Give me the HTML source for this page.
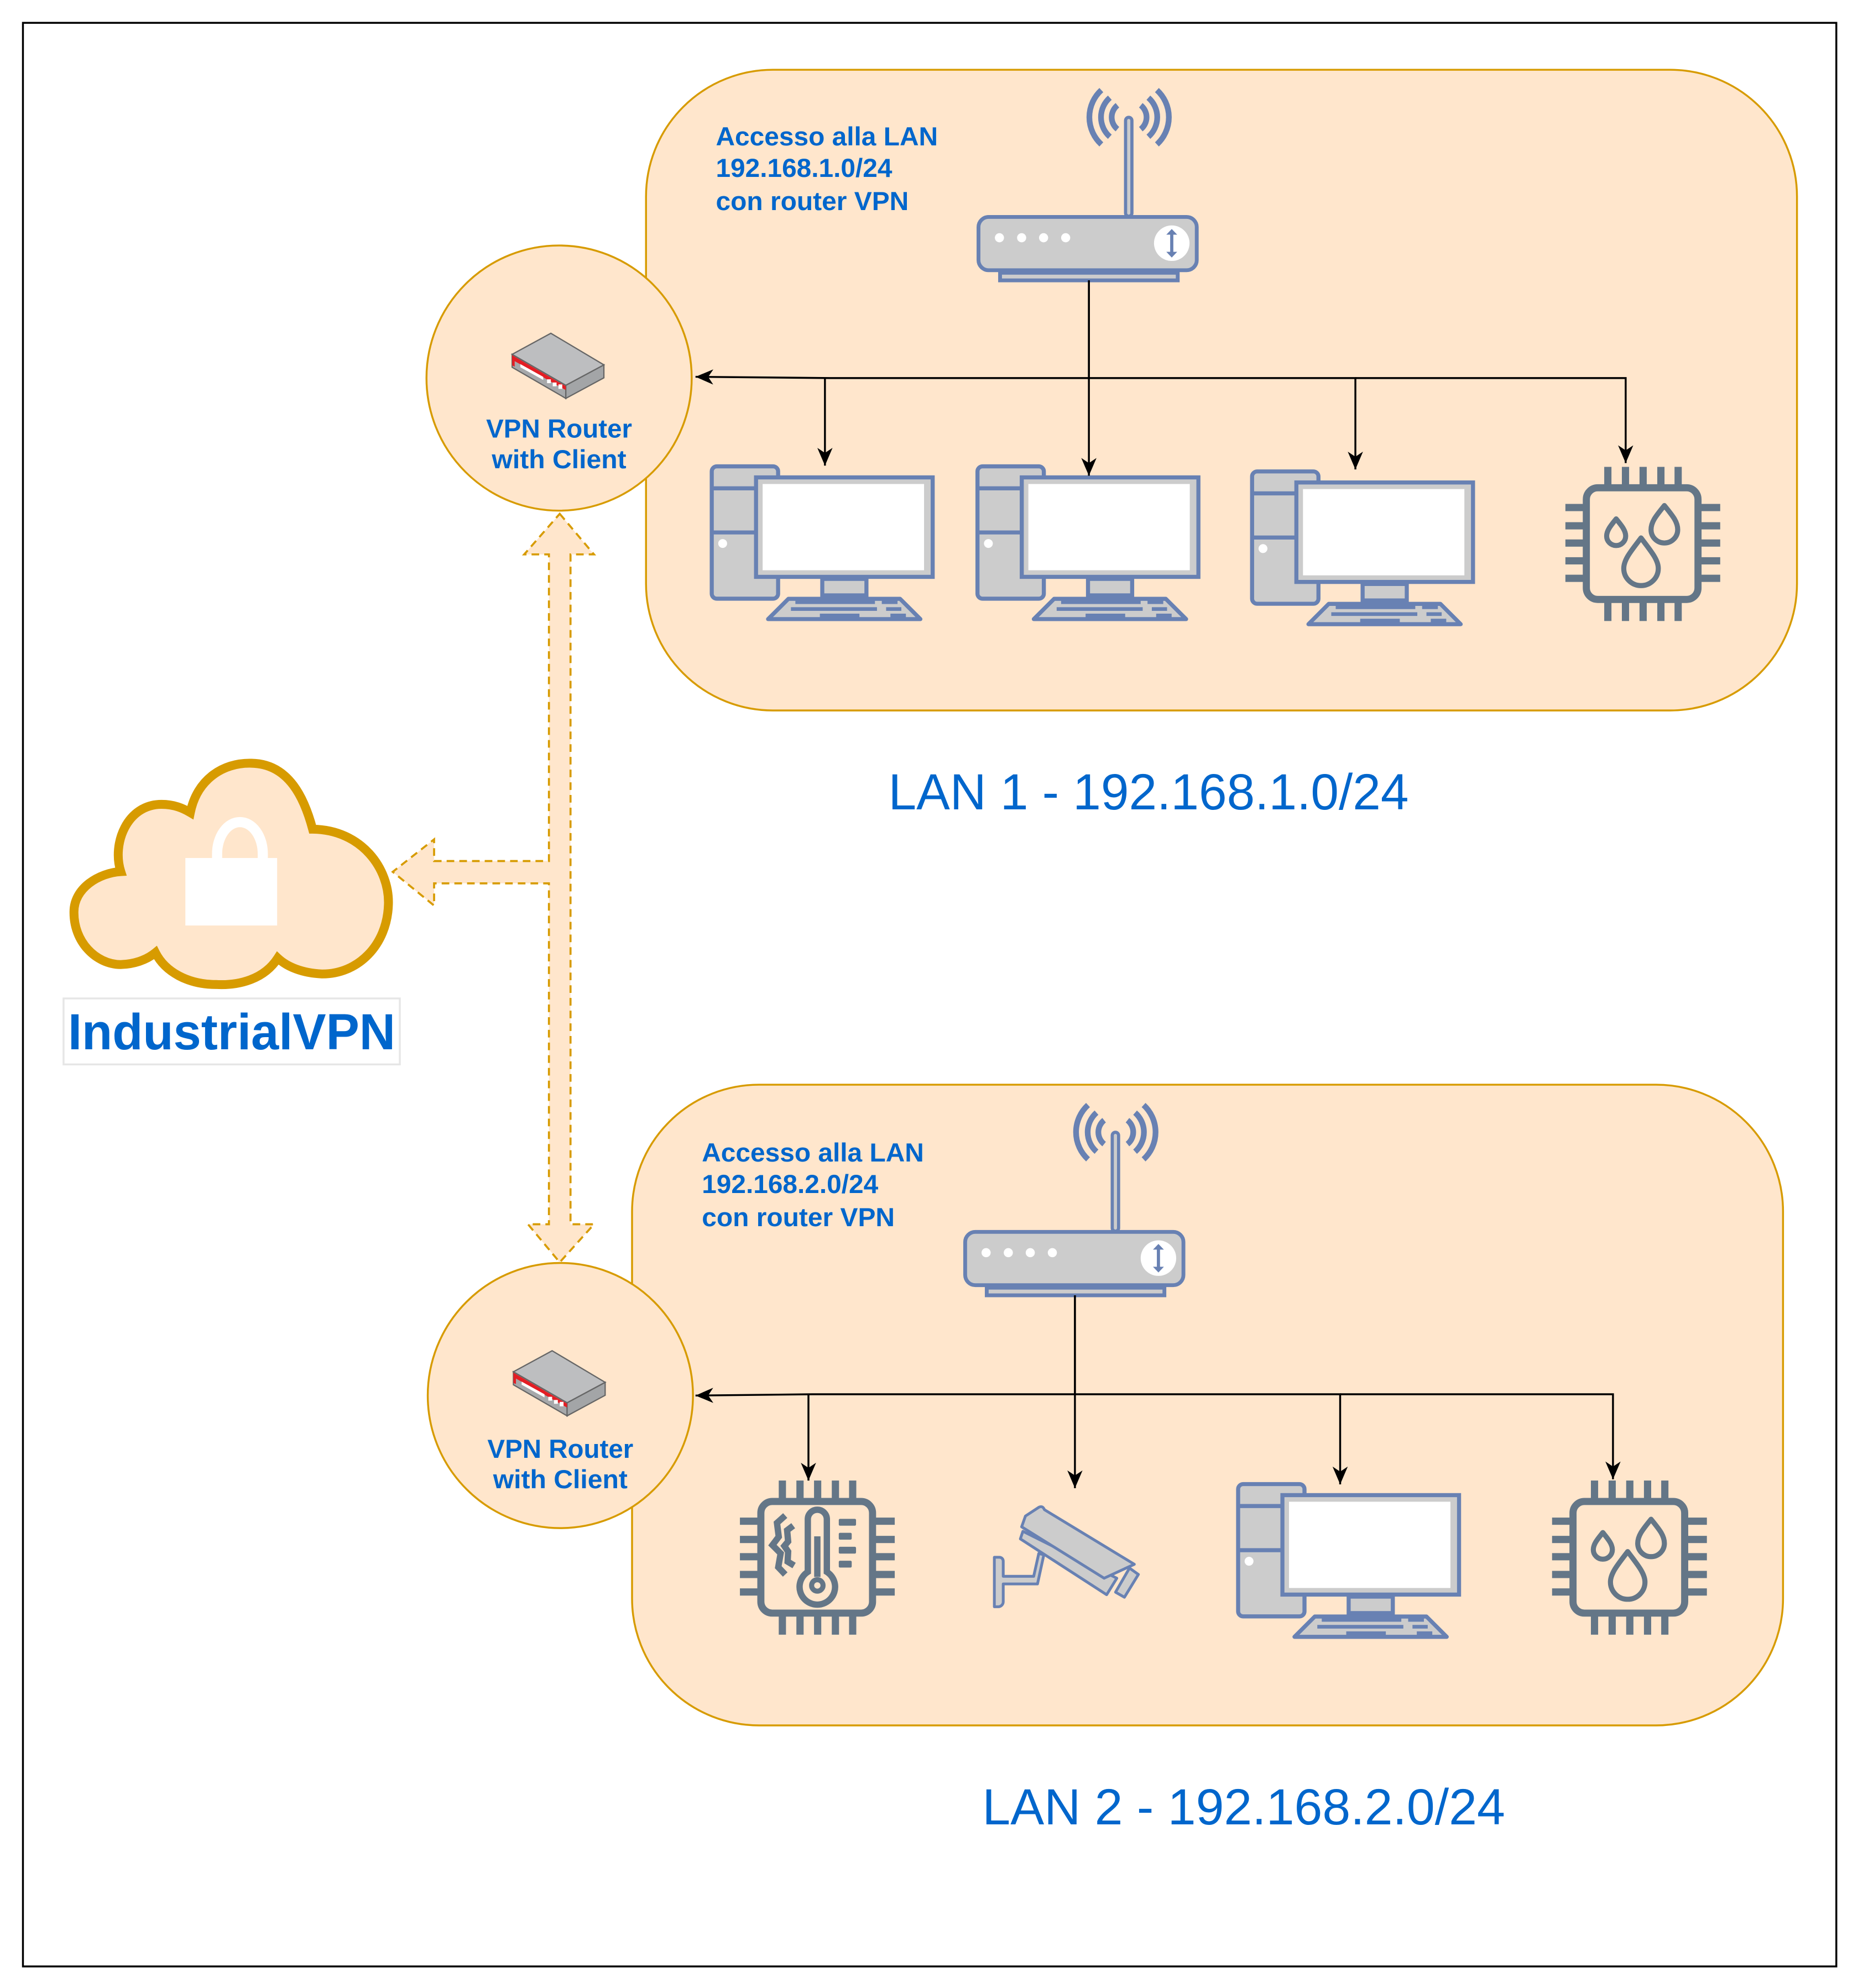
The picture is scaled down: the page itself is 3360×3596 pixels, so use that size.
<!DOCTYPE html>
<html><head><meta charset="utf-8"><style>
html,body{margin:0;padding:0;background:#fff;}
svg{display:block;}
text{font-family:"Liberation Sans",Arial,sans-serif;fill:#0066cc;}
</style></head><body>
<svg xmlns="http://www.w3.org/2000/svg" xmlns:xlink="http://www.w3.org/1999/xlink" width="3360" height="3596" viewBox="0 0 1464 1567">
<defs>
<marker id="ar" markerUnits="userSpaceOnUse" markerWidth="16" markerHeight="12" refX="14" refY="6" orient="auto">
<path d="M0,0 L14,6 L0,12 L4,6 Z" fill="#000"/>
</marker>
<g id="pc">
<rect x="1.6" y="1.6" width="52.3" height="104.3" rx="4" fill="#ccc" stroke="#6881b3" stroke-width="3.2"/>
<line x1="1.6" y1="18.9" x2="36" y2="18.9" stroke="#6881b3" stroke-width="3.2"/>
<line x1="1.6" y1="53.7" x2="36" y2="53.7" stroke="#6881b3" stroke-width="3.2"/>
<circle cx="10.2" cy="62.4" r="3.5" fill="#fff"/>
<rect x="36.5" y="10.3" width="139.2" height="78.4" fill="#ccc" stroke="#6881b3" stroke-width="3.2"/>
<rect x="41.7" y="15.5" width="127.2" height="68" fill="#fff"/>
<rect x="88.7" y="90.3" width="34.8" height="13" fill="#ccc" stroke="#6881b3" stroke-width="3.2"/>
<polygon points="62,106 150,106 166,122 46,122" fill="#ccc" stroke="#6881b3" stroke-width="3.2" stroke-linejoin="round"/>
<g fill="#6881b3">
<rect x="67.5" y="107.2" width="62.7" height="2.9"/><rect x="135.6" y="107.2" width="12.4" height="2.9"/>
<rect x="64" y="112.6" width="67.8" height="2.9"/><rect x="139" y="112.6" width="12" height="2.9"/>
<rect x="86.8" y="117.7" width="31.2" height="2.9"/><rect x="142.4" y="117.7" width="12.2" height="2.9"/>
</g>
</g>
<g id="chipbase" fill="#647687">
<rect x="16.5" y="16.5" width="88" height="88" rx="9" fill="none" stroke="#647687" stroke-width="5.6"/>
<rect x="30.6" y="0" width="5.7" height="14"/><rect x="44.5" y="0" width="5.7" height="14"/><rect x="58.4" y="0" width="5.7" height="14"/><rect x="72.4" y="0" width="5.7" height="14"/><rect x="86" y="0" width="5.7" height="14"/>
<rect x="30.6" y="107" width="5.7" height="14.5"/><rect x="44.5" y="107" width="5.7" height="14.5"/><rect x="58.4" y="107" width="5.7" height="14.5"/><rect x="72.4" y="107" width="5.7" height="14.5"/><rect x="86" y="107" width="5.7" height="14.5"/>
<rect x="0" y="29.2" width="14" height="5.7"/><rect x="0" y="43.6" width="14" height="5.7"/><rect x="0" y="57.2" width="14" height="5.7"/><rect x="0" y="71.2" width="14" height="5.7"/><rect x="0" y="85" width="14" height="5.7"/>
<rect x="107" y="29.2" width="15" height="5.7"/><rect x="107" y="43.6" width="15" height="5.7"/><rect x="107" y="57.2" width="15" height="5.7"/><rect x="107" y="71.2" width="15" height="5.7"/><rect x="107" y="85" width="15" height="5.7"/>
</g>
<g id="chipwater">
<use xlink:href="#chipbase"/>
<g fill="none" stroke="#647687" stroke-width="4" stroke-linejoin="round">
<path d="M59.6,56 C52,66 46,73 46,80 A13.6,13.6 0 0 0 73.2,80 C73.2,73 67,66 59.6,56 Z"/>
<path d="M78,30.5 C72,38 67.5,43 67.5,49.5 A10.5,10.5 0 0 0 88.5,49.5 C88.5,43 84,38 78,30.5 Z"/>
<path d="M40,41 C36,46 32.5,50 32.5,54.5 A7.5,7.5 0 0 0 47.5,54.5 C47.5,50 44,46 40,41 Z"/>
</g>
</g>
<g id="chiptherm">
<use xlink:href="#chipbase"/>
<g fill="none" stroke="#647687" stroke-width="5">
<path d="M53.5,72 V30.5 A7.5,7.5 0 0 1 68.5,30.5 V72 A14,14 0 1 1 53.5,72 Z"/>
<line x1="61" y1="44" x2="61" y2="76"/>
<circle cx="61" cy="82.7" r="4.5" stroke-width="4"/>
<path d="M35.7,27.6 L29.2,33.4 L30.6,44.3 L25.6,50.9 L32.1,57.4 L30.2,68.3 L35.7,74.1" stroke-width="5"/>
<path d="M42,35.6 L37.2,39.2 L38,48 L35,51.6 L38,56 L37.6,63.9 L42.7,67" stroke-width="5"/>
</g>
<g fill="#647687">
<rect x="77.9" y="30.2" width="13.6" height="5.4" rx="1"/><rect x="77.9" y="41.2" width="10.2" height="5.4" rx="1"/><rect x="77.9" y="52.2" width="13.6" height="5.4" rx="1"/><rect x="77.9" y="63.2" width="10.2" height="5.4" rx="1"/>
</g>
</g>
<g id="router">
<g fill="none" stroke="#6881b3" stroke-width="4.5">
<path d="M880.5,83 A12,12 0 0 0 880.5,101.8"/><path d="M898.9,83 A12,12 0 0 1 898.9,101.8"/>
<path d="M874.5,77 A20.5,20.5 0 0 0 874.5,107.8"/><path d="M904.9,77 A20.5,20.5 0 0 1 904.9,107.8"/>
<path d="M867.8,71 A29,29 0 0 0 867.8,113.8"/><path d="M911.6,71 A29,29 0 0 1 911.6,113.8"/>
</g>
<g transform="translate(769.5,169.5)">
<rect x="18.5" y="45.5" width="140" height="6" fill="#ccc" stroke="#6881b3" stroke-width="3"/>
<rect x="1.5" y="1.5" width="172" height="42" rx="8" fill="#ccc" stroke="#6881b3" stroke-width="3"/>
<circle cx="18" cy="17.9" r="3.6" fill="#fff"/><circle cx="35.5" cy="17.9" r="3.6" fill="#fff"/><circle cx="52.8" cy="17.9" r="3.6" fill="#fff"/><circle cx="70.2" cy="17.9" r="3.6" fill="#fff"/>
<circle cx="153.8" cy="22.2" r="14" fill="#fff"/>
<line x1="153.8" y1="14" x2="153.8" y2="30.5" stroke="#6881b3" stroke-width="2.5"/>
<path d="M149.5,15.5 L153.8,11 L158.1,15.5 Z M149.5,29 L153.8,33.5 L158.1,29 Z" fill="#6881b3"/>
<rect x="117.4" y="-77" width="5" height="78" rx="2.5" fill="#ccc" stroke="#6881b3" stroke-width="2.5"/>
</g>
</g>
<g id="vpnbox">
<polygon points="403.5,279.3 445.8,303.7 445.8,314 403.5,289.5" fill="#a6a8aa" stroke="#666" stroke-width="1"/>
<polygon points="445.8,303.7 475.8,287.6 475.8,297.8 445.8,314" fill="#a3a5a7" stroke="#666" stroke-width="1"/>
<polygon points="403.5,279.3 434,262.7 475.8,287.6 445.8,303.7" fill="#bdbec0" stroke="#666" stroke-width="1"/>
<polygon points="403.5,280 445.8,304.4 445.8,307.5 403.5,283.5" fill="#e31e24"/>
<polygon points="403.5,280 405.5,281.1 405.5,289 403.5,288" fill="#e31e24"/>
<polygon points="410,287 428,297 428,299.5 410,289.5" fill="#fff"/>
<rect x="431" y="299" width="3" height="3" fill="#fff"/><rect x="435.5" y="301.5" width="3" height="3" fill="#fff"/><rect x="440" y="303" width="3" height="3.5" fill="#fff"/>
</g>
</defs>

<rect x="0" y="0" width="1464" height="1567" fill="#fff"/>
<rect x="18" y="18" width="1429" height="1532" fill="none" stroke="#000" stroke-width="1.5"/>

<rect x="509" y="55" width="907" height="505" rx="100" fill="#ffe6cc" stroke="#d79b00" stroke-width="1.5"/>
<rect x="498" y="855" width="907" height="505" rx="100" fill="#ffe6cc" stroke="#d79b00" stroke-width="1.5"/>

<text x="564" y="114.6" font-size="20.5" font-weight="bold" textLength="175" lengthAdjust="spacingAndGlyphs">Accesso alla LAN</text>
<text x="564" y="139.4" font-size="20.5" font-weight="bold" textLength="139" lengthAdjust="spacingAndGlyphs">192.168.1.0/24</text>
<text x="564" y="165.6" font-size="20.5" font-weight="bold" textLength="152" lengthAdjust="spacingAndGlyphs">con router VPN</text>

<use xlink:href="#router"/>

<use xlink:href="#pc" x="559.2" y="366"/>
<use xlink:href="#pc" x="768.6" y="366"/>
<use xlink:href="#pc" x="985" y="370"/>
<use xlink:href="#chipwater" x="1233.5" y="368"/>

<g fill="none" stroke="#000" stroke-width="1.5">
<path d="M858,221 V298 H654 L548,297" marker-end="url(#ar)"/>
<path d="M858,221 V375" marker-end="url(#ar)"/>
<path d="M650,298 V367" marker-end="url(#ar)"/>
<path d="M858,298 H1068 V370" marker-end="url(#ar)"/>
<path d="M1068,298 H1281 V365" marker-end="url(#ar)"/>
</g>

<circle cx="440.5" cy="298" r="104.5" fill="#ffe6cc" stroke="#d79b00" stroke-width="1.5"/>
<use xlink:href="#vpnbox"/>
<text x="440.5" y="345" font-size="20.5" font-weight="bold" text-anchor="middle" textLength="115" lengthAdjust="spacingAndGlyphs">VPN Router</text>
<text x="440.5" y="369" font-size="20.5" font-weight="bold" text-anchor="middle" textLength="106" lengthAdjust="spacingAndGlyphs">with Client</text>

<text x="700" y="638" font-size="40" textLength="410" lengthAdjust="spacingAndGlyphs">LAN 1 - 192.168.1.0/24</text>

<text x="553" y="915.6" font-size="20.5" font-weight="bold" textLength="175" lengthAdjust="spacingAndGlyphs">Accesso alla LAN</text>
<text x="553" y="940.4" font-size="20.5" font-weight="bold" textLength="139" lengthAdjust="spacingAndGlyphs">192.168.2.0/24</text>
<text x="553" y="966.6" font-size="20.5" font-weight="bold" textLength="152" lengthAdjust="spacingAndGlyphs">con router VPN</text>

<use xlink:href="#router" x="-10.5" y="800"/>

<use xlink:href="#chiptherm" x="583" y="1167"/>
<use xlink:href="#pc" x="974" y="1168.2"/>
<use xlink:href="#chipwater" x="1223" y="1167"/>

<g fill="#ccc" stroke="#6881b3" stroke-width="2.2" stroke-linejoin="round">
<path d="M783.5,1227.5 h4 a3,3 0 0 1 3,3 v12 h24 l4,-18 l4,1 l-5,23 h-27 v14 a4,4 0 0 1 -4,4 h-3 z"/>
<path d="M806,1207 L880,1244 L872,1257 L804,1213 Z"/>
<path d="M818.7,1188 C821,1187 822,1188 823,1190 L893.8,1233 L870,1244 L805,1203.5 L808,1195 Z"/>
<path d="M890,1236 L897,1241 L886,1259 L879,1255 Z"/>
</g>

<g fill="none" stroke="#000" stroke-width="1.5">
<path d="M847,1021 V1099 H640 L548,1100" marker-end="url(#ar)"/>
<path d="M847,1021 V1173" marker-end="url(#ar)"/>
<path d="M637,1099 V1167" marker-end="url(#ar)"/>
<path d="M847,1099 H1056 V1170" marker-end="url(#ar)"/>
<path d="M1056,1099 H1271 V1166" marker-end="url(#ar)"/>
</g>

<circle cx="441.5" cy="1100" r="104.5" fill="#ffe6cc" stroke="#d79b00" stroke-width="1.5"/>
<use xlink:href="#vpnbox" x="1" y="802"/>
<text x="441.5" y="1149" font-size="20.5" font-weight="bold" text-anchor="middle" textLength="115" lengthAdjust="spacingAndGlyphs">VPN Router</text>
<text x="441.5" y="1173" font-size="20.5" font-weight="bold" text-anchor="middle" textLength="106" lengthAdjust="spacingAndGlyphs">with Client</text>

<text x="774" y="1438" font-size="40" textLength="412" lengthAdjust="spacingAndGlyphs">LAN 2 - 192.168.2.0/24</text>

<polygon points="441,405 468,437 449.5,437 449.5,965 468,965 441,995 416,965 432.5,965 432.5,696.3 342,696.3 342,713.8 309.4,687.2 342,661.6 342,678.7 432.5,678.7 432.5,437 413,437"
 fill="#ffe6cc" stroke="#d79b00" stroke-width="1.6" stroke-dasharray="6,4"/>

<path d="M149.9,640.5 C155,615 175,601 198,601.6 C228,602 240,630 246.3,653.6 C285,654 307,685 306,713 C305,745 282,768 253.5,767.7 C238,767 226,762 218.8,755.2 C208,772 188,777 170,776 C148,776 130,766 122.4,750.9 C115,757 105,760 95,760.3 C75,760 58,742 58.2,719 C58,700 78,688 95.1,687 C88,665 100,634 127.2,634 C137,634 144,637 149.9,640.5 Z"
 fill="#ffe6cc" stroke="#d79b00" stroke-width="7"/>
<path d="M171,678 V673 A18,25 0 0 1 207,673 V678" fill="none" stroke="#fff" stroke-width="8"/>
<rect x="146" y="676.3" width="72.3" height="53.2" fill="#fff"/>

<rect x="50" y="787" width="265" height="52" fill="#fff" stroke="#e6e6e6" stroke-width="1.5"/>
<text x="182.5" y="827" font-size="40" font-weight="bold" text-anchor="middle" textLength="258" lengthAdjust="spacingAndGlyphs">IndustrialVPN</text>
</svg>
</body></html>
